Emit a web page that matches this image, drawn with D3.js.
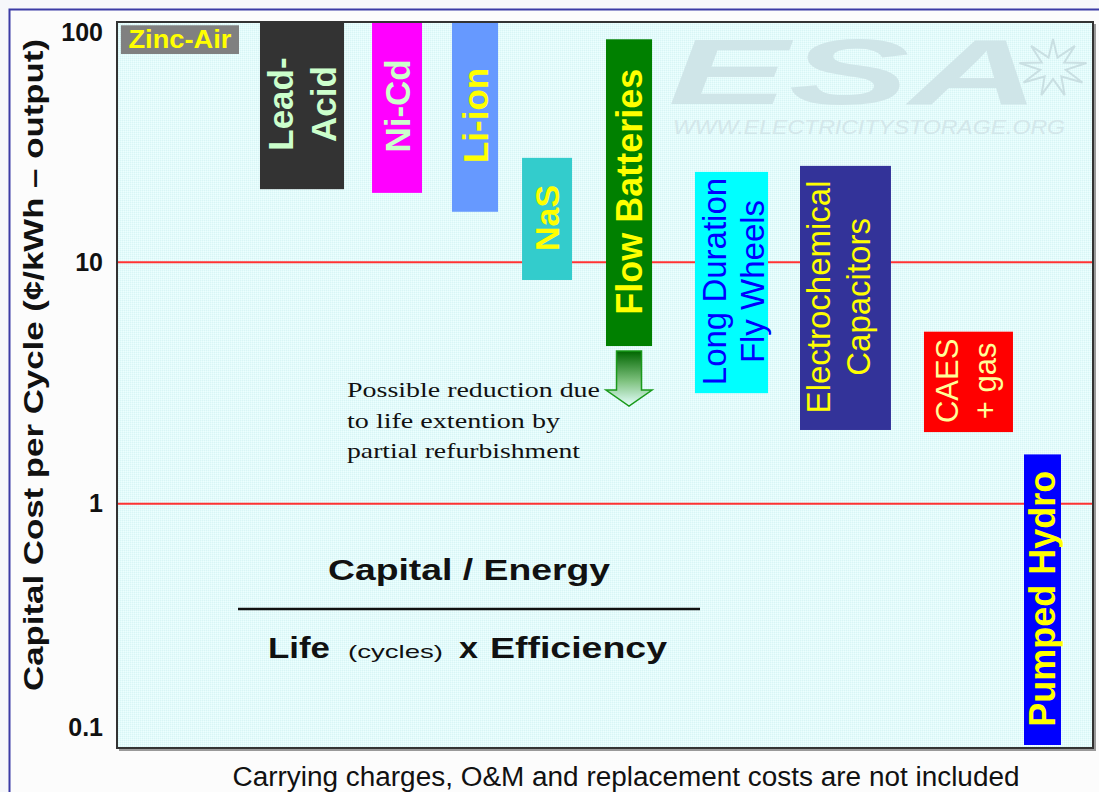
<!DOCTYPE html>
<html>
<head>
<meta charset="utf-8">
<script src="https://cdn.jsdelivr.net/npm/d3@7"></script>
<style>
  html, body { margin: 0; padding: 0; background: #f6f7fb; }
  svg { display: block; }
</style>
</head>
<body>
<svg id="chart" width="1099" height="792"></svg>
<script>
// data (cents / kWh - output, log scale)
const categories = ['Zinc-Air', 'Lead-Acid', 'Ni-Cd', 'Li-ion', 'NaS', 'Flow Batteries',
  'Long Duration Fly Wheels', 'Electrochemical Capacitors', 'CAES + gas', 'Pumped Hydro']
const costLow = [73, 20.1, 19.4, 16.2, 8.45, 4.5, 2.87, 2.02, 1.98, 0.1]
const costHigh = [96, 100, 100, 100, 27.1, 84, 23.7, 25.1, 5.16, 1.6]
const barLabels = [['Zinc-Air'], ['Lead-', 'Acid'], ['Ni-Cd'], ['Li-ion'], ['NaS'], ['Flow Batteries'],
  ['Long Duration', 'Fly Wheels'], ['Electrochemical', 'Capacitors'], ['CAES', '+ gas'], ['Pumped Hydro']]
const tickValues = [0.1, 1, 10, 100]
const tickLabels = ['0.1', '1', '10', '100']
const gridValues = [1, 10]

// layout / style (slot positions in % of plot width)
const slotStart = [0.4, 14.65, 26.13, 34.32, 41.5, 50.1, 59.22, 69.98, 82.68, 92.93]
const slotEnd = [12.5, 23.26, 31.25, 39.04, 46.62, 54.82, 66.7, 79.3, 91.8, 96.72]
const barFills = ['#808080', '#333333', '#ff00ff', '#6699ff', '#33cccc', '#008000', '#00ffff', '#333399', '#ff0000', '#0000ff']
const textFills = ['#ffff00', '#ccffcc', '#ccffcc', '#ffff00', '#ffff00', '#ffff00', '#0000ff', '#ffff00', '#ffff99', '#ffff00']
const textSizes = [25, 35, 35, 35, 34, 36, 33, 33, 31, 36]
const textWeights = ['bold', 'bold', 'bold', 'bold', 'bold', 'bold', 'normal', 'normal', 'normal', 'bold']
const lineGaps = [0, 43, 0, 0, 0, 0, 38, 40, 38, 0]
const textShift = [0, 0, 0, 0, 0, 0, 2, -7, -3, 0]

const sans = '"Liberation Sans", Arial, sans-serif'
const serif = '"Liberation Serif", "Times New Roman", serif'

const margin = { left: 117, top: 22, right: 1093, bottom: 748 }

const svg = d3.select('#chart')

const x = d3.scaleLinear().domain([0, 100]).range([margin.left, margin.right])
const y = d3.scaleLog().domain([0.1, 100]).range([745, 21])

// outer frame
svg.append('rect')
  .attr('x', 9.5).attr('y', 9.5)
  .attr('width', 1200).attr('height', 900)
  .attr('fill', '#fcfcfc')
  .attr('stroke', '#3b3ba6')
  .attr('stroke-width', 2)

const defs = svg.append('defs')
const pat = defs.append('pattern').attr('id', 'dots')
  .attr('width', 2).attr('height', 2).attr('patternUnits', 'userSpaceOnUse')
pat.append('rect').attr('width', 2).attr('height', 2).attr('fill', '#e3fbfb')
pat.append('rect').attr('width', 1).attr('height', 1).attr('fill', '#d8f5f5')
pat.append('rect').attr('x', 1).attr('y', 1).attr('width', 1).attr('height', 1).attr('fill', '#edfefe')

const grad = defs.append('linearGradient').attr('id', 'arrowGrad')
  .attr('x1', 0).attr('y1', 0).attr('x2', 0).attr('y2', 1)
grad.append('stop').attr('offset', '0%').attr('stop-color', '#006600')
grad.append('stop').attr('offset', '55%').attr('stop-color', '#7fc27f')
grad.append('stop').attr('offset', '100%').attr('stop-color', '#e6ffff')

// plot background
svg.append('rect')
  .attr('x', margin.left).attr('y', margin.top)
  .attr('width', margin.right - margin.left)
  .attr('height', margin.bottom - margin.top)
  .attr('fill', 'url(#dots)')

// watermark
const wm = svg.append('g').attr('class', 'watermark')
wm.append('text')
  .attr('x', 668).attr('y', 104)
  .attr('font-family', sans).attr('font-weight', 'bold').attr('font-style', 'italic')
  .attr('font-size', 92)
  .attr('textLength', 372).attr('lengthAdjust', 'spacingAndGlyphs')
  .attr('fill', '#cfe5e8')
  .text('ESA')
wm.append('text')
  .attr('x', 673).attr('y', 134)
  .attr('font-family', sans).attr('font-style', 'italic')
  .attr('font-size', 20)
  .attr('textLength', 392).attr('lengthAdjust', 'spacingAndGlyphs')
  .attr('fill', '#d3e7ea')
  .text('WWW.ELECTRICITYSTORAGE.ORG')
const starPts = d3.range(18).map((i) => {
  const a = (i / 18) * Math.PI * 2 - Math.PI / 2
  const r = i % 2 === 0 ? 34 : 13
  return [1053 + Math.cos(a) * r, 68 + Math.sin(a) * r * 0.85]
})
wm.append('path')
  .attr('d', d3.line()(starPts) + 'Z')
  .attr('fill', 'none')
  .attr('stroke', '#c9dfe2')
  .attr('stroke-width', 2)

// red grid lines
svg.append('g').attr('class', 'grid')
  .selectAll('line')
  .data(gridValues)
  .join('line')
  .attr('x1', margin.left).attr('x2', margin.right)
  .attr('y1', (d) => y(d)).attr('y2', (d) => y(d))
  .attr('stroke', '#ff3333')
  .attr('stroke-width', 2)

// bars
const rows = categories.map((name, i) => ({ name, i, low: costLow[i], high: costHigh[i] }))

svg.append('g').attr('class', 'bars')
  .selectAll('rect')
  .data(rows)
  .join('rect')
  .attr('x', (d) => x(slotStart[d.i]))
  .attr('width', (d) => x(slotEnd[d.i]) - x(slotStart[d.i]))
  .attr('y', (d) => y(d.high))
  .attr('height', (d) => y(d.low) - y(d.high))
  .attr('fill', (d) => barFills[d.i])

// bar labels
const labelG = svg.append('g').attr('class', 'bar-labels')
rows.forEach((d) => {
  const cx = (x(slotStart[d.i]) + x(slotEnd[d.i])) / 2 + textShift[d.i]
  const cy = (y(d.low) + y(d.high)) / 2 - 1
  const fs = textSizes[d.i]
  const lines = barLabels[d.i]
  if (d.i === 0) {
    labelG.append('text')
      .attr('x', cx).attr('y', cy + fs * 0.36)
      .attr('text-anchor', 'middle')
      .attr('font-family', sans).attr('font-weight', 'bold').attr('font-size', fs)
      .attr('textLength', 103).attr('lengthAdjust', 'spacingAndGlyphs')
      .attr('fill', textFills[d.i])
      .text(lines[0])
    return
  }
  lines.forEach((line, j) => {
    const bx = cx + (j - (lines.length - 1) / 2) * lineGaps[d.i] + fs * 0.36
    labelG.append('text')
      .attr('transform', `translate(${bx},${cy}) rotate(-90)`)
      .attr('text-anchor', 'middle')
      .attr('font-family', sans)
      .attr('font-weight', textWeights[d.i])
      .attr('font-size', fs)
      .attr('fill', textFills[d.i])
      .text(line)
  })
})

// reduction arrow under flow batteries
const fi = 5
const ax = (x(slotStart[fi]) + x(slotEnd[fi])) / 2
const aTop = y(costLow[fi]) + 5
const aHead = aTop + 39
const aTip = aHead + 16
const halfHead = (x(slotEnd[fi]) - x(slotStart[fi])) / 2
svg.append('path')
  .attr('d', `M${ax - 12.5},${aTop}L${ax + 12.5},${aTop}L${ax + 12.5},${aHead}L${ax + halfHead},${aHead}L${ax},${aTip}L${ax - halfHead},${aHead}L${ax - 12.5},${aHead}Z`)
  .attr('fill', 'url(#arrowGrad)')
  .attr('stroke', '#1a9a1a')
  .attr('stroke-width', 1.5)

const noteLines = ['Possible reduction due', 'to life extention by', 'partial refurbishment']
const noteLengths = [253, 213, 233]
svg.append('g').attr('class', 'note')
  .selectAll('text')
  .data(noteLines)
  .join('text')
  .attr('x', 347)
  .attr('y', (d, i) => 397 + i * 30.5)
  .attr('font-family', serif)
  .attr('font-size', 22)
  .attr('textLength', (d, i) => noteLengths[i])
  .attr('lengthAdjust', 'spacingAndGlyphs')
  .attr('fill', '#111')
  .text((d) => d)

// formula
const fg = svg.append('g').attr('class', 'formula').attr('fill', '#111').attr('font-family', sans)
fg.append('text')
  .attr('x', 469).attr('y', 580)
  .attr('text-anchor', 'middle')
  .attr('font-weight', 'bold').attr('font-size', 29)
  .attr('textLength', 282).attr('lengthAdjust', 'spacingAndGlyphs')
  .text('Capital / Energy')
fg.append('line')
  .attr('x1', 238).attr('x2', 700)
  .attr('y1', 609).attr('y2', 609)
  .attr('stroke', '#111').attr('stroke-width', 2.5)
const parts = [
  { t: 'Life', x: 268, len: 62, fs: 30, w: 'bold' },
  { t: '(cycles)', x: 348, len: 95, fs: 19, w: 'normal' },
  { t: 'x', x: 459, len: 19, fs: 30, w: 'bold' },
  { t: 'Efficiency', x: 490, len: 177, fs: 30, w: 'bold' }
]
fg.selectAll('text.part')
  .data(parts)
  .join('text')
  .attr('class', 'part')
  .attr('x', (d) => d.x).attr('y', 658)
  .attr('font-weight', (d) => d.w)
  .attr('font-size', (d) => d.fs)
  .attr('textLength', (d) => d.len)
  .attr('lengthAdjust', 'spacingAndGlyphs')
  .text((d) => d.t)

// plot border with a small shadow
svg.append('path')
  .attr('d', `M${margin.right + 2},${margin.top + 2}V${margin.bottom + 2}H${margin.left + 2}`)
  .attr('fill', 'none').attr('stroke', '#9a9a9a').attr('stroke-width', 2)
svg.append('rect')
  .attr('x', margin.left).attr('y', margin.top)
  .attr('width', margin.right - margin.left)
  .attr('height', margin.bottom - margin.top)
  .attr('fill', 'none')
  .attr('stroke', '#333')
  .attr('stroke-width', 2)

// y axis
const yAxis = svg.append('g')
  .attr('class', 'y-axis')
  .attr('transform', `translate(${margin.left},0)`)
  .call(d3.axisLeft(y).tickValues(tickValues).tickFormat((d, i) => tickLabels[i]).tickSize(0).tickPadding(14))
yAxis.select('.domain').remove()
yAxis.selectAll('text')
  .attr('font-family', sans)
  .attr('font-weight', 'bold')
  .attr('font-size', 25)
  .attr('fill', '#111')
  .attr('transform', (d) => `translate(0,${d === 100 ? 11 : d === 0.1 ? -18 : 0})`)

svg.append('text')
  .attr('transform', 'translate(43,365) rotate(-90)')
  .attr('text-anchor', 'middle')
  .attr('font-family', sans)
  .attr('font-weight', 'bold')
  .attr('font-size', 28)
  .attr('textLength', 652).attr('lengthAdjust', 'spacingAndGlyphs')
  .attr('fill', '#111')
  .text('Capital Cost per Cycle (¢/kWh \u2013 output)')

svg.append('text')
  .attr('x', 626).attr('y', 786)
  .attr('text-anchor', 'middle')
  .attr('font-family', sans)
  .attr('font-size', 27)
  .attr('textLength', 787).attr('lengthAdjust', 'spacingAndGlyphs')
  .attr('fill', '#111')
  .text('Carrying charges, O&M and replacement costs are not included')
</script>
</body>
</html>
